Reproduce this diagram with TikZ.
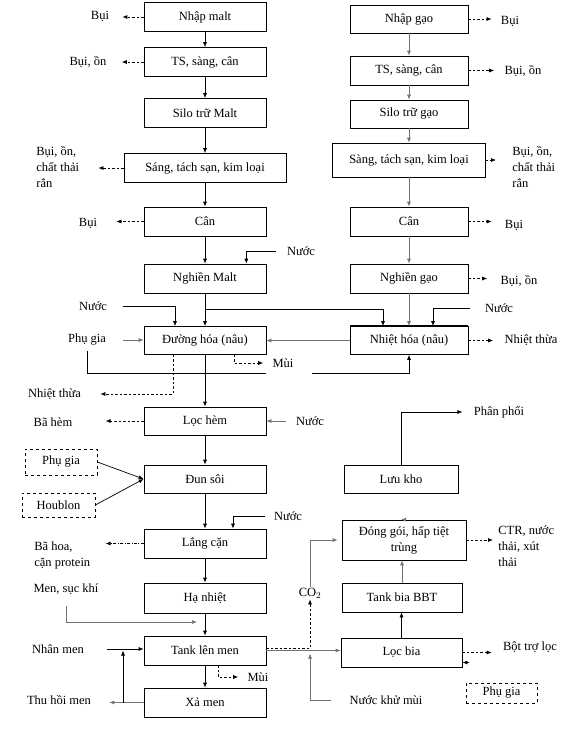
\documentclass[tikz,border=0pt]{standalone}
\usepackage{fontspec}
\setmainfont{Liberation Serif}
\usepackage{tikz}
\usetikzlibrary{arrows.meta}

\begin{document}
\begin{tikzpicture}[x=1pt, y=-1pt, >={Latex[length=5pt,width=4pt]}, line width=0.7pt,
	font=\fontsize{12.5}{16}\selectfont,
	box/.style={draw, rectangle, align=center, minimum height=29pt, inner sep=2pt},
	dbox/.style={draw, dashed, rectangle, align=center, inner sep=2pt},
	lbl/.style={inner sep=1pt, align=left},
	waste/.style={->, dash pattern=on 2.5pt off 2pt, shorten >=10pt},
	feed/.style={->, shorten <=12pt},
	dim/.style={black!55}]
	\useasboundingbox (0,0) rectangle (580,732);

	% Malt line (left column)
	\node[box, minimum width=122pt] (malt) at (205,17) {Nhập malt};
	\node[box, minimum width=122pt] (ts1) at (205,62) {TS, sàng, cân};
	\node[box, minimum width=122pt] (silo1) at (205,113) {Silo trữ Malt};
	\node[box, minimum width=162pt] (sang1) at (205,168) {Sáng, tách sạn, kim loại};
	\node[box, minimum width=122pt] (can1) at (205,221.5) {Cân};
	\node[box, minimum width=122pt] (ngm) at (205,278.5) {Nghiền Malt};
	\node[box, minimum width=122pt, minimum height=28pt] (dh) at (205,340.5) {Đường hóa (nâu)};
	\node[box, minimum width=122pt, minimum height=28pt] (lh) at (205,421) {Lọc hèm};
	\node[box, minimum width=122pt, minimum height=28pt] (ds) at (205,479) {Đun sôi};
	\node[box, minimum width=122pt] (lc) at (205,543.5) {Lắng cặn};
	\node[box, minimum width=122pt, minimum height=30pt] (hn) at (205,598) {Hạ nhiệt};
	\node[box, minimum width=122pt] (tlm) at (205,650.5) {Tank lên men};
	\node[box, minimum width=122pt] (xm) at (205,702.5) {Xả men};

	% Rice line (right column)
	\node[box, minimum width=118pt, minimum height=28pt] (gao) at (409,19) {Nhập gạo};
	\node[box, minimum width=118pt] (ts2) at (409,70.5) {TS, sàng, cân};
	\node[box, minimum width=118pt, minimum height=28pt] (silo2) at (409,114) {Silo trữ gạo};
	\node[box, minimum width=153pt, minimum height=34pt] (sang2) at (409,160) {Sàng, tách sạn, kim loại};
	\node[box, minimum width=118pt] (can2) at (409,221.5) {Cân};
	\node[box, minimum width=118pt] (ngg) at (409,278.5) {Nghiền gạo};
	\node[box, minimum width=118pt, minimum height=28pt] (nh) at (409,340.5) {Nhiệt hóa (nâu)};
	\draw[line width=1.6pt] (nh.north west) -- (nh.north east);

	% Beer line (right, bottom up)
	\node[box, minimum width=114pt, minimum height=28pt] (lk) at (401,479) {Lưu kho};
	\node[box, minimum width=124pt, minimum height=40pt] (dg) at (404,540) {Đóng gói, hấp tiệt\\trùng};
	\node[box, minimum width=120pt] (bbt) at (402,597.5) {Tank bia BBT};
	\node[box, minimum width=121pt] (lb) at (401.5,652.5) {Lọc bia};

	% Dashed additive boxes
	\node[dbox, minimum width=72pt, minimum height=26pt] (pg1) at (61,462) {Phụ gia};
	\node[dbox, minimum width=73pt, minimum height=24pt] (hb) at (58.5,505) {Houblon};
	\node[dbox, minimum width=71pt, minimum height=20pt] (pg3) at (501.5,693) {Phụ gia};

	% Labels on the left
	\node[lbl] (bui1) at (100,16) {Bụi};
	\node[lbl] (bui2) at (88,62) {Bụi, ồn};
	\node[lbl, anchor=west] (bui3) at (35,167) {Bụi, ồn,\\chất thải\\rắn};
	\node[lbl] (bui4) at (88,223) {Bụi};
	\node[lbl] (nuoc1) at (301,251) {Nước};
	\node[lbl] (nuoc2) at (93,306) {Nước};
	\node[lbl] (pg) at (87,340) {Phụ gia};
	\node[lbl] (mui1) at (283,363) {Mùi};
	\node[lbl] (nt1) at (54.5,394) {Nhiệt thừa};
	\node[lbl] (bah) at (53,422) {Bã hèm};
	\node[lbl] (nuoc4) at (310,421) {Nước};
	\node[lbl] (nuoc5) at (288,516) {Nước};
	\node[lbl, anchor=west] (bhoa) at (33,555) {Bã hoa,\\cặn protein};
	\node[lbl] (msk) at (66,589) {Men, sục khí};
	\node[lbl] (nm2) at (58,649) {Nhân men};
	\node[lbl] (mui2) at (258,677) {Mùi};
	\node[lbl] (thm) at (59,700) {Thu hồi men};

	% Labels on the right
	\node[lbl] (bui5) at (510,21) {Bụi};
	\node[lbl] (bui6) at (523,71) {Bụi, ồn};
	\node[lbl, anchor=west] (bui7) at (511,167) {Bụi, ồn,\\chất thải\\rắn};
	\node[lbl] (bui8) at (514,225) {Bụi};
	\node[lbl] (bui9) at (519,281) {Bụi, ồn};
	\node[lbl] (nuoc3) at (499,308) {Nước};
	\node[lbl] (nt2) at (531,340) {Nhiệt thừa};
	\node[lbl] (pp) at (499,412) {Phân phối};
	\node[lbl, anchor=west] (ctr) at (497,546) {CTR, nước\\thải, xút\\thải};
	\node[lbl] (co2) at (310,593) {CO$_2$};
	\node[lbl] (btl) at (530,647) {Bột trợ lọc};
	\node[lbl] (nkm) at (386,700) {Nước khử mùi};

	\coordinate (br1) at (205,309);
	\coordinate (gapl) at (266,373);
	\coordinate (gapr) at (312,373);
	\coordinate (mskin) at (197,622);
	\coordinate (thj) at (123,702.5);

	% Main flow, left
	\draw[->] (malt) -- (ts1);
	\draw[->] (ts1) -- (silo1);
	\draw[->] (silo1) -- (sang1);
	\draw[->] (sang1) -- (can1);
	\draw[->] (can1) -- (ngm);
	\draw[->] (ngm) -- (dh);
	\draw[->] (dh) -- (lh);
	\draw[->] (lh) -- (ds);
	\draw[->] (ds) -- (lc);
	\draw[->] (lc) -- (hn);
	\draw[->] (hn) -- (tlm);
	\draw[->] (tlm) -- (xm);

	% Main flow, right
	\draw[dim, ->] (gao) -- (ts2);
	\draw[dim, ->] (ts2) -- (silo2);
	\draw[dim, ->] (silo2) -- (sang2);
	\draw[dim, ->] (sang2) -- (can2);
	\draw[dim, ->] (can2) -- (ngg);
	\draw[dim, ->] (ngg) -- (nh);
	\draw[->] (lb.north) -- (lb.north |- bbt.south);
	\draw[dim, ->] (bbt.north) -- (bbt.north |- dg.south);
	\draw[dim, ->] (dg.north) -- (dg.north -| lk.south);
	\draw[->, shorten >=10pt] (lk.north) |- (pp.west);

	% Dust and waste outputs
	\draw[waste, shorten >=12pt] (malt.west) -- (malt.west -| bui1.east);
	\draw[waste, shorten >=14pt] (ts1.west) -- (ts1.west -| bui2.east);
	\draw[waste, shorten >=18pt] (sang1.west) -- (sang1.west -| bui3.east);
	\draw[waste, shorten >=18pt] (can1.west) -- (can1.west -| bui4.east);
	\draw[waste, shorten >=8pt] (gao.east) -- (gao.east -| bui5.west);
	\draw[waste, shorten >=9pt] (ts2.east) -- (ts2.east -| bui6.west);
	\draw[waste, shorten >=15pt] (sang2.east) -- (sang2.east -| bui7.west);
	\draw[waste, shorten >=12pt] (can2.east) -- (can2.east -| bui8.west);
	\draw[waste, shorten >=12pt] (ngg.east) -- (ngg.east -| bui9.west);
	\draw[waste] (nh.east) -- (nh.east -| nt2.west);
	\draw[waste, shorten >=8pt] ([xshift=29pt]dh.south) |- (mui1.west);
	\draw[waste, shorten >=18pt] ([xshift=-32pt]dh.south) |- (nt1.east);
	\draw[waste, shorten >=32pt] (lh.west) -- (lh.west -| bah.east);
	\draw[->, dash pattern=on 3pt off 1.5pt on 0.8pt off 1.5pt, shorten >=14pt] (lc.west) -- (lc.west -| bhoa.east);
	\draw[waste, shorten >=8pt] ([xshift=13pt]tlm.south) |- (mui2.west);
	\draw[waste, shorten >=4pt] (dg.east) -- (dg.east -| ctr.west);
	\draw[waste] (lb.east) -- (lb.east -| btl.west);

	% Water and additive inputs
	\draw[feed, shorten <=10pt] (nuoc1.west) -| ([xshift=-20pt]ngm.north east);
	\draw[feed, shorten <=15pt] (nuoc2.east) -| ([xshift=-30pt]dh.north);
	\draw[->] (br1) -| ([xshift=-26pt]nh.north);
	\draw[feed, shorten <=14pt] (nuoc3.west) -| ([xshift=24pt]nh.north);
	\draw[dim, feed, shorten <=16pt] (pg.east) -- (pg.east -| dh.west);
	\draw[dim, ->] (nh.west) -- (nh.west -| dh.east);
	\draw[shorten <=4pt] (pg.south) |- (gapl);
	\draw[->] (gapr) -| (nh.south);
	\draw[dim, feed, shorten <=9pt] (nuoc4.west) -- (nuoc4.west -| lh.east);
	\draw[->] (pg1.east) -- (ds.west);
	\draw[->] (hb.east) -- (ds.west);
	\draw[feed, shorten <=8pt] (nuoc5.west) -| ([xshift=28pt]lc.north);
	\draw[dim, ->, shorten <=10pt] (msk.south) |- (mskin);
	\draw[feed, shorten <=22pt] (nm2.east) -- (nm2.east -| tlm.west);
	\draw[dim, ->, shorten >=17pt] (xm.west) -- (xm.west -| thm.east);
	\draw[->] (thj) -- (thj |- tlm.west);

	% Fermenter to beer filter, CO2 recovery
	\draw[dim, ->] (tlm.east) -- (tlm.east -| lb.west);
	\draw[->, dash pattern=on 2.5pt off 2pt] ([yshift=2pt]tlm.east) -| (co2.south);
	\draw[dim, ->, shorten >=4pt] (co2.north) |- (dg.west);
	\draw[dim, feed, shorten <=17pt, shorten >=3pt] (nkm.west) -| (co2.south |- tlm.east);
	\draw[->] ([xshift=7pt,yshift=-10pt]lb.east) -- ([yshift=-10pt]lb.east);
\end{tikzpicture}
\end{document}
